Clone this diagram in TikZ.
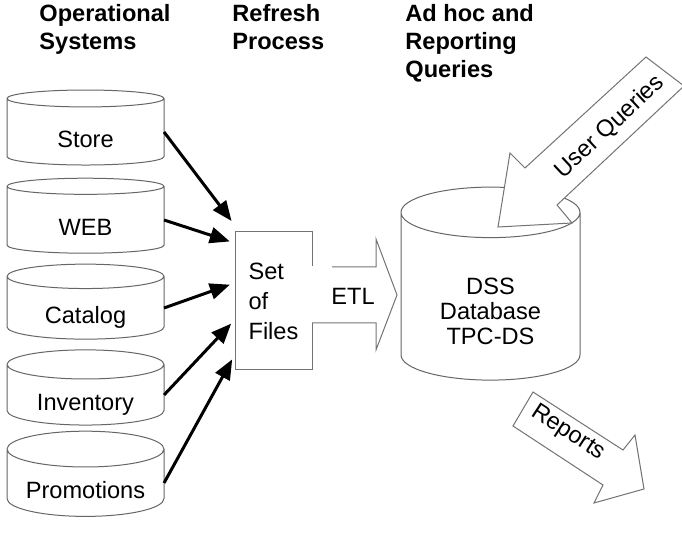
\documentclass[tikz,border=0pt]{standalone}
\usepackage{fontspec}
\setmainfont{Liberation Sans}
\usetikzlibrary{arrows.meta,shapes.geometric}

\tikzset{
  dbcyl/.style={cylinder,shape border rotate=90,draw=black!60,line width=0.5pt,
    fill=white,inner sep=0pt,outer sep=0pt},
  srccyl/.style={dbcyl,minimum width=78.5pt,minimum height=37.5pt,aspect=0.3,
    text height=15.5pt,text depth=0pt},
  srcarrow/.style={line width=1.5pt,-{Triangle[length=10pt,width=8pt]},shorten >=2.5pt},
  outline/.style={draw=black!55,line width=0.5pt},
  heading/.style={font=\fontsize{11.8}{14}\selectfont\bfseries,align=left,anchor=north west,inner sep=0pt},
}

\begin{document}
\begin{tikzpicture}[x=0.5pt,y=-0.5pt,font=\fontsize{11.8}{14}\selectfont]
\useasboundingbox (0,0) rectangle (682,544);

% column headings
\node[heading] (ops) at (39,4) {Operational\\Systems};
\node[heading] (refresh) at (232,4) {Refresh\\Process};
\node[heading] (adhoc) at (405,4) {Ad hoc and\\Reporting\\Queries};

% operational systems
\node[srccyl] (store) at (85.5,132) {Store};
\node[srccyl] (web) at (85.5,220) {WEB};
\node[srccyl] (catalog) at (85.5,308) {Catalog};
\node[srccyl] (inventory) at (85.5,395) {Inventory};
\node[srccyl] (promo) at (85.5,483) {Promotions};

% set of files
\node[align=left,minimum width=38.5pt,minimum height=69pt,inner sep=0pt,
  font=\fontsize{11.8}{15}\selectfont] (files) at (273.5,301) {Set\\of\\Files};
\draw[outline] (312,266) -- (312,232) -- (235,232) -- (235,370) -- (312,370) -- (312,323);

\draw[srcarrow] (store.east) -- (files.west |- 0,225);
\draw[srcarrow] (web.east) -- (files.west |- 0,243);
\draw[srcarrow] (catalog.east) -- (files.west |- 0,283);
\draw[srcarrow] (inventory.east) -- (files.west |- 0,320);
\draw[srcarrow] (promo.east) -- (files.west |- 0,355);

% ETL arrow
\draw[outline] (332,267) -- (376,267) -- (376,239) -- (397,295) -- (376,350) -- (376,323) -- (312,323);
\node (etl) at (353,296) {ETL};

% DSS database
\node[dbcyl,minimum width=89.5pt,minimum height=96.5pt,aspect=0.5,align=center,
  text height=48.5pt,text depth=0pt,font=\fontsize{11.8}{12.5}\selectfont]
  (dss) at (490.5,296.5) {DSS\\Database\\TPC-DS};

% user queries
\draw[outline,fill=white] (646,57) -- (684,86) -- (557,205) -- (572,223) -- (498,227)
  -- (510,153) -- (525,168) -- cycle;
\node[rotate=43] (uq) at (610,127) {User Queries};

% reports
\draw[outline,fill=white] (533,392) -- (623,450) -- (635,435) -- (644,489) -- (594,503)
  -- (603,485) -- (513,426) -- cycle;
\node[rotate=-33] (rep) at (568,433) {Reports};
\end{tikzpicture}
\end{document}
